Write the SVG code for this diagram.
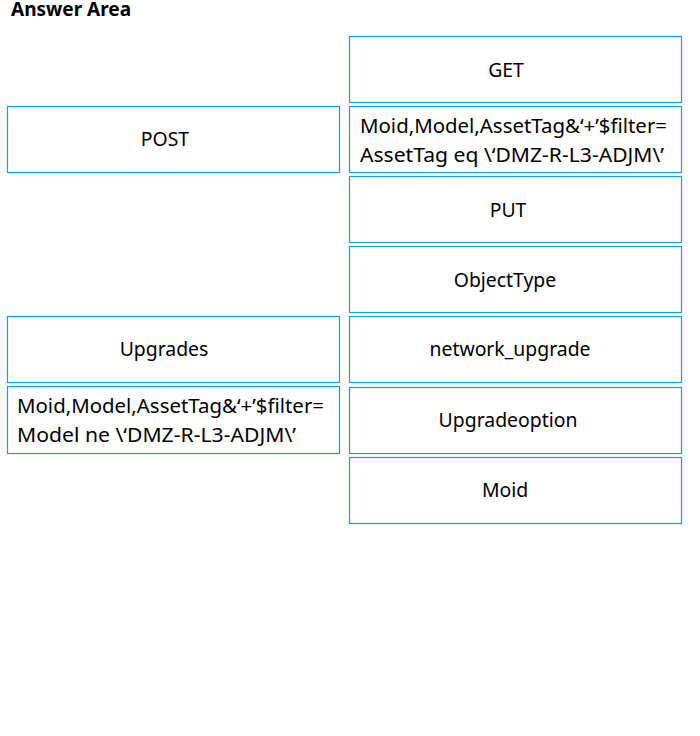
<svg xmlns="http://www.w3.org/2000/svg" width="700" height="736" viewBox="0 0 700 736">
<style>
.box{fill:#ffffff;stroke:#16a0e0;stroke-width:1.2}
.t{font-family:"Noto Sans","Open Sans","DejaVu Sans",sans-serif;font-size:19.4px;fill:#000}
.m{font-size:20px}
.c{text-anchor:middle}
.h{font-family:"Noto Sans","DejaVu Sans",sans-serif;font-size:19px;font-weight:bold;fill:#000}
</style>
<rect width="700" height="736" fill="#ffffff"/>
<text class="h" x="11" y="16">Answer Area</text>
<g id="get"><rect class="box" x="349.5" y="36.5" width="332" height="66"/><text class="t c" x="506" y="77">GET</text></g>
<g id="filter-eq"><rect class="box" x="349.5" y="106.5" width="332" height="66"/><text class="t m" x="360" y="133" textLength="307" lengthAdjust="spacingAndGlyphs">Moid,Model,AssetTag&amp;‘+’$filter=</text><text class="t m" x="360" y="162" textLength="304" lengthAdjust="spacingAndGlyphs">AssetTag eq \‘DMZ-R-L3-ADJM\’</text></g>
<g id="put"><rect class="box" x="349.5" y="176.5" width="332" height="66"/><text class="t c" x="508" y="217">PUT</text></g>
<g id="objecttype"><rect class="box" x="349.5" y="246.5" width="332" height="66"/><text class="t c" x="505" y="287">ObjectType</text></g>
<g id="network-upgrade"><rect class="box" x="349.5" y="316.5" width="332" height="66"/><text class="t c" x="510" y="356">network_upgrade</text></g>
<g id="upgradeoption"><rect class="box" x="349.5" y="387.5" width="332" height="66"/><text class="t c" x="508" y="427">Upgradeoption</text></g>
<g id="moid"><rect class="box" x="349.5" y="457.5" width="332" height="66"/><text class="t c" x="505" y="497">Moid</text></g>
<g id="post"><rect class="box" x="7.5" y="106.5" width="332" height="66"/><text class="t c" x="165" y="146">POST</text></g>
<g id="upgrades"><rect class="box" x="7.5" y="316.5" width="332" height="66"/><text class="t c" x="164" y="356">Upgrades</text></g>
<g id="filter-ne"><rect class="box" x="7.5" y="386.5" width="332" height="67"/><text class="t m" x="17" y="413" textLength="307" lengthAdjust="spacingAndGlyphs">Moid,Model,AssetTag&amp;‘+’$filter=</text><text class="t m" x="17" y="442" textLength="279" lengthAdjust="spacingAndGlyphs">Model ne \‘DMZ-R-L3-ADJM\’</text></g>
<g id="connectors"></g>
</svg>
